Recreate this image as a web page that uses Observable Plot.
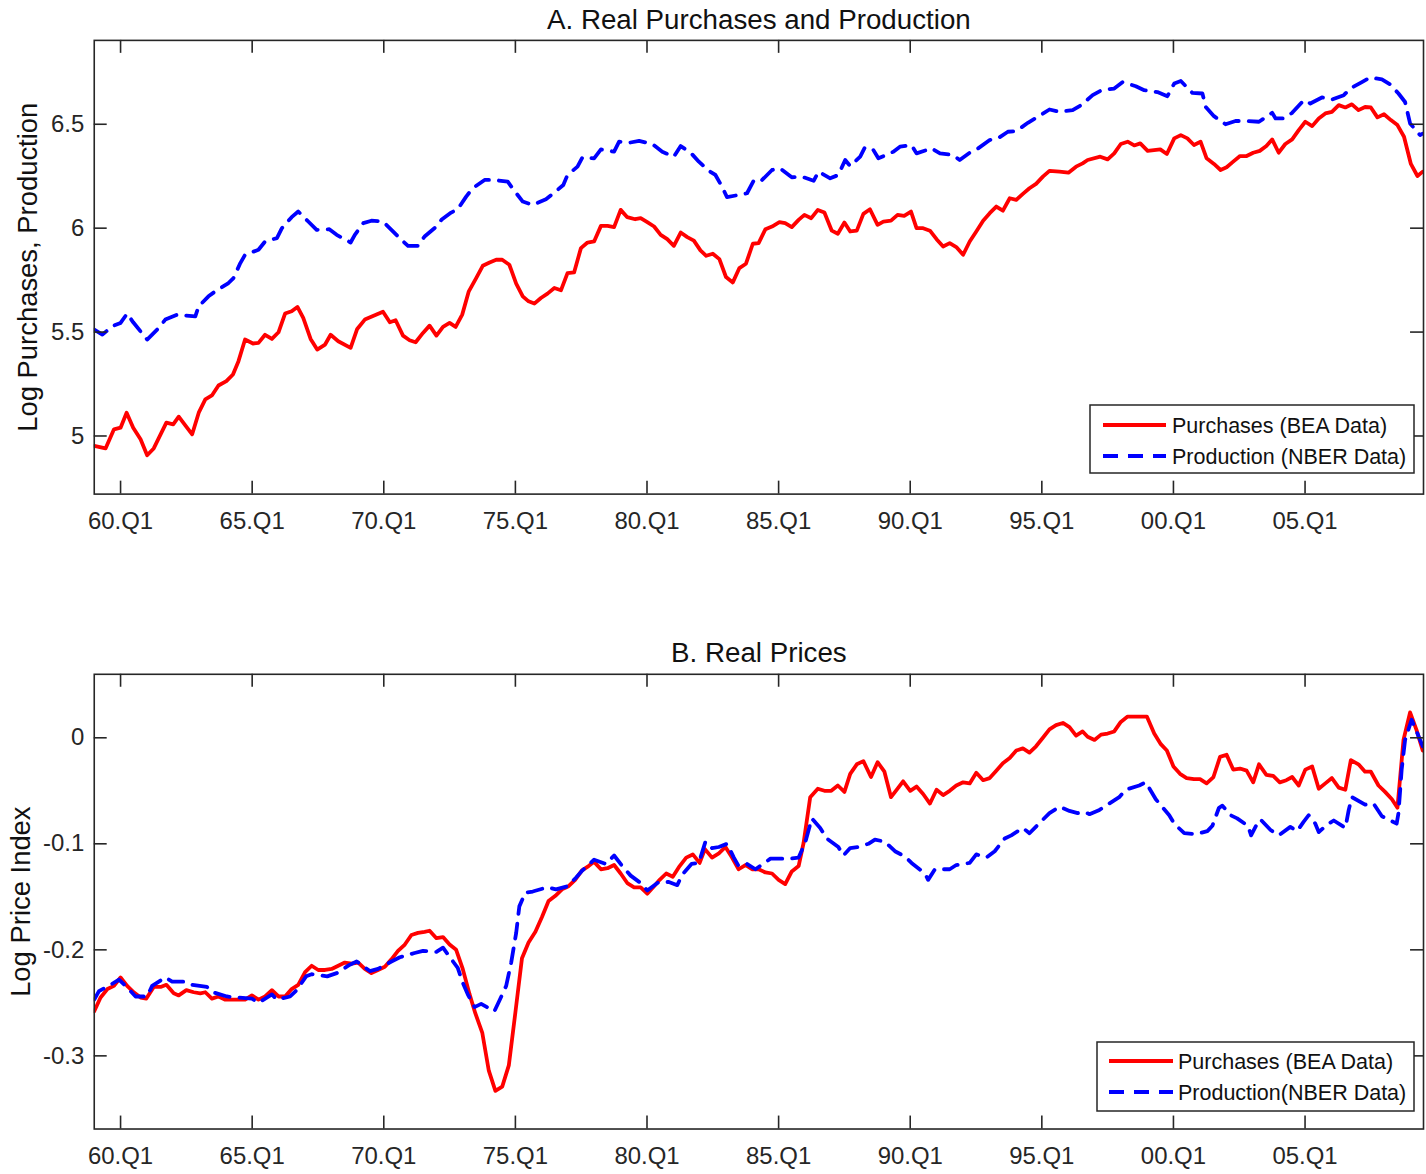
<!DOCTYPE html>
<html><head><meta charset="utf-8">
<script src="https://cdn.jsdelivr.net/npm/d3@7"></script>
<script src="https://cdn.jsdelivr.net/npm/@observablehq/plot@0.6"></script>
<style>
html,body{margin:0;padding:0;background:#fff;overflow:hidden;}
#wrap{position:relative;width:1426px;height:1174px;overflow:hidden;}
.panel{position:absolute;left:0;}
#overlay{position:absolute;left:0;top:0;pointer-events:none;}
</style></head><body><div id="wrap"></div>
<script>
// ---------- data (decimal year, value) ----------
const xTickYears = [1960,1965,1970,1975,1980,1985,1990,1995,2000,2005];
const xTickLabels = ["60.Q1","65.Q1","70.Q1","75.Q1","80.Q1","85.Q1","90.Q1","95.Q1","00.Q1","05.Q1"];
const yTicksA = [5,5.5,6,6.5];
const yTickLabelsA = ["5","5.5","6","6.5"];
const yTicksB = [-0.3,-0.2,-0.1,0];
const yTickLabelsB = ["-0.3","-0.2","-0.1","0"];
const titleA = "A. Real Purchases and Production";
const titleB = "B. Real Prices";
const ylabelA = "Log Purchases, Production";
const ylabelB = "Log Price Index";
const legendLabelsA = ["Purchases (BEA Data)","Production (NBER Data)"];
const legendLabelsB = ["Purchases (BEA Data)","Production(NBER Data)"];

const yearsPurchA = [1959.0,1959.43,1959.75,1960.0,1960.23,1960.48,1960.76,1961.01,1961.26,1961.74,1962.0,1962.21,1962.46,1962.72,1962.97,1963.22,1963.47,1963.72,1964.02,1964.27,1964.48,1964.73,1965.03,1965.24,1965.49,1965.75,1966.0,1966.25,1966.5,1966.72,1966.94,1967.22,1967.47,1967.77,1967.98,1968.27,1968.74,1968.99,1969.28,1969.97,1970.23,1970.45,1970.73,1970.98,1971.21,1971.49,1971.74,1972.0,1972.25,1972.5,1972.73,1972.98,1973.23,1973.51,1973.76,1974.02,1974.27,1974.5,1974.77,1975.03,1975.28,1975.5,1975.72,1975.97,1976.22,1976.48,1976.73,1976.98,1977.23,1977.49,1977.74,1977.99,1978.25,1978.5,1978.75,1979.0,1979.25,1979.55,1979.76,1980.01,1980.27,1980.52,1980.77,1981.02,1981.28,1981.53,1981.78,1982.03,1982.25,1982.5,1982.75,1983.0,1983.26,1983.51,1983.76,1984.02,1984.24,1984.5,1984.75,1985.03,1985.25,1985.5,1985.76,1985.98,1986.24,1986.49,1986.74,1987.02,1987.25,1987.5,1987.72,1987.97,1988.22,1988.47,1988.76,1988.98,1989.27,1989.52,1989.77,1990.03,1990.24,1990.49,1990.75,1991.0,1991.25,1991.5,1991.75,1992.01,1992.26,1992.51,1992.77,1993.02,1993.27,1993.52,1993.78,1994.03,1994.28,1994.53,1994.78,1995.04,1995.29,1995.67,1996.01,1996.3,1996.55,1996.74,1997.22,1997.5,1997.75,1998.0,1998.26,1998.51,1998.74,1999.02,1999.5,1999.75,2000.03,2000.28,2000.53,2000.78,2001.03,2001.26,2001.54,2001.79,2002.02,2002.27,2002.53,2002.78,2003.03,2003.28,2003.53,2003.75,2004.0,2004.25,2004.51,2004.76,2005.01,2005.27,2005.52,2005.77,2006.02,2006.28,2006.53,2006.78,2007.03,2007.28,2007.5,2007.75,2008.0,2008.26,2008.51,2008.76,2009.02,2009.27,2009.47];
const valsPurchA = [4.952,4.940,5.032,5.040,5.112,5.040,4.984,4.907,4.940,5.064,5.056,5.093,5.051,5.008,5.112,5.176,5.195,5.243,5.264,5.296,5.360,5.464,5.445,5.448,5.487,5.467,5.499,5.589,5.600,5.621,5.568,5.467,5.416,5.440,5.487,5.456,5.424,5.515,5.560,5.598,5.547,5.557,5.483,5.461,5.451,5.496,5.531,5.483,5.525,5.544,5.525,5.584,5.696,5.760,5.819,5.835,5.848,5.848,5.824,5.733,5.672,5.648,5.637,5.664,5.685,5.712,5.701,5.784,5.787,5.904,5.931,5.936,6.011,6.011,6.005,6.088,6.053,6.043,6.048,6.029,6.008,5.968,5.947,5.915,5.979,5.957,5.940,5.893,5.867,5.877,5.851,5.765,5.739,5.808,5.829,5.925,5.928,5.995,6.008,6.029,6.024,6.005,6.040,6.064,6.048,6.088,6.075,5.988,5.973,6.027,5.984,5.988,6.069,6.091,6.016,6.032,6.036,6.064,6.059,6.080,6.000,6.000,5.988,5.947,5.912,5.928,5.909,5.872,5.936,5.984,6.036,6.072,6.104,6.084,6.144,6.136,6.165,6.192,6.213,6.248,6.276,6.272,6.267,6.296,6.312,6.328,6.344,6.331,6.360,6.405,6.416,6.398,6.408,6.372,6.379,6.357,6.432,6.448,6.432,6.400,6.416,6.336,6.309,6.280,6.293,6.320,6.347,6.347,6.363,6.372,6.395,6.427,6.363,6.405,6.427,6.472,6.512,6.491,6.528,6.552,6.560,6.592,6.581,6.596,6.568,6.583,6.581,6.533,6.548,6.520,6.496,6.440,6.309,6.251,6.272];

const yearsProdA = [1959.0,1959.31,1959.69,1960.0,1960.25,1960.48,1961.01,1961.45,1961.70,1962.15,1962.46,1962.84,1962.97,1963.34,1963.6,1964.1,1964.29,1964.55,1964.73,1965.24,1965.49,1965.94,1966.13,1966.5,1966.75,1967.13,1967.45,1967.93,1968.21,1968.74,1968.9,1969.22,1969.53,1969.97,1970.29,1970.67,1970.92,1971.3,1971.55,1972.0,1972.19,1972.56,1972.81,1973.13,1973.38,1973.83,1974.2,1974.71,1974.96,1975.28,1975.66,1976.16,1976.48,1976.82,1976.98,1977.36,1977.55,1977.99,1978.25,1978.75,1978.94,1979.32,1979.7,1980.2,1980.58,1981.02,1981.28,1981.66,1981.97,1982.35,1982.6,1982.85,1983.04,1983.48,1983.8,1984.05,1984.31,1984.75,1985.06,1985.5,1985.88,1986.33,1986.52,1986.96,1987.27,1987.53,1987.72,1988.1,1988.28,1988.6,1988.79,1989.36,1989.61,1990.05,1990.24,1990.81,1991.13,1991.63,1991.88,1992.26,1992.58,1993.02,1993.33,1993.71,1994.03,1994.47,1994.85,1995.29,1995.67,1996.17,1996.49,1996.93,1997.27,1997.75,1998.07,1998.57,1998.89,1999.39,1999.77,2000.03,2000.28,2000.72,2001.1,2001.23,2001.54,2001.98,2002.36,2002.8,2003.25,2003.75,2003.88,2004.19,2004.51,2004.95,2005.2,2005.64,2006.02,2006.47,2006.72,2007.16,2007.47,2007.92,2008.23,2008.55,2008.8,2008.99,2009.37,2009.47];
const valsProdA = [5.512,5.488,5.528,5.544,5.589,5.547,5.464,5.520,5.560,5.584,5.579,5.576,5.624,5.672,5.696,5.736,5.760,5.832,5.872,5.896,5.936,5.952,6.000,6.053,6.080,6.032,5.992,5.995,5.968,5.931,5.968,6.024,6.036,6.032,5.992,5.944,5.915,5.915,5.960,6.008,6.040,6.075,6.091,6.152,6.192,6.232,6.232,6.224,6.180,6.128,6.112,6.139,6.171,6.208,6.256,6.296,6.341,6.336,6.379,6.368,6.416,6.411,6.420,6.405,6.368,6.344,6.395,6.363,6.320,6.276,6.256,6.200,6.149,6.160,6.168,6.228,6.224,6.280,6.288,6.245,6.248,6.228,6.272,6.240,6.256,6.328,6.299,6.344,6.389,6.376,6.336,6.368,6.392,6.400,6.360,6.384,6.360,6.352,6.328,6.363,6.384,6.424,6.432,6.464,6.467,6.507,6.536,6.571,6.560,6.568,6.592,6.640,6.664,6.672,6.703,6.683,6.664,6.655,6.635,6.696,6.708,6.651,6.648,6.583,6.539,6.500,6.516,6.515,6.512,6.555,6.528,6.528,6.555,6.616,6.600,6.629,6.619,6.640,6.672,6.703,6.725,6.716,6.692,6.648,6.607,6.504,6.448,6.455];

const yearsPurchB = [1959.0,1959.24,1959.5,1959.75,1960.0,1960.25,1960.5,1960.76,1960.98,1961.26,1961.52,1961.74,1962.02,1962.21,1962.5,1962.78,1963.03,1963.22,1963.47,1963.72,1963.98,1964.23,1964.48,1964.73,1964.99,1965.24,1965.49,1965.75,1966.0,1966.25,1966.5,1966.75,1967.01,1967.26,1967.51,1967.77,1968.02,1968.27,1968.52,1968.78,1969.03,1969.28,1969.53,1969.78,1970.04,1970.29,1970.54,1970.8,1971.05,1971.3,1971.55,1971.74,1972.0,1972.25,1972.5,1972.75,1973.0,1973.26,1973.48,1973.74,1973.99,1974.24,1974.5,1974.75,1975.0,1975.25,1975.5,1975.76,1976.01,1976.26,1976.52,1976.77,1977.02,1977.27,1977.53,1977.78,1977.99,1978.25,1978.5,1978.75,1979.0,1979.25,1979.51,1979.76,1980.01,1980.27,1980.48,1980.73,1980.98,1981.24,1981.49,1981.74,1982.0,1982.2,1982.47,1982.73,1982.98,1983.23,1983.48,1983.74,1983.99,1984.24,1984.5,1984.75,1985.0,1985.25,1985.5,1985.76,1985.95,1986.2,1986.49,1986.74,1987.0,1987.25,1987.5,1987.72,1987.97,1988.22,1988.51,1988.76,1989.02,1989.27,1989.52,1989.73,1990.0,1990.24,1990.49,1990.75,1991.0,1991.25,1991.5,1991.75,1992.01,1992.26,1992.51,1992.77,1993.02,1993.27,1993.52,1993.78,1994.03,1994.28,1994.53,1994.78,1995.04,1995.29,1995.54,1995.8,1996.05,1996.3,1996.55,1996.74,1997.0,1997.25,1997.5,1997.75,1998.0,1998.26,1998.51,1998.76,1998.99,1999.27,1999.52,1999.75,2000.0,2000.25,2000.5,2000.78,2001.01,2001.26,2001.52,2001.77,2002.02,2002.27,2002.53,2002.78,2003.03,2003.25,2003.53,2003.79,2004.04,2004.29,2004.51,2004.76,2005.01,2005.27,2005.52,2005.77,2006.02,2006.28,2006.53,2006.74,2007.03,2007.28,2007.5,2007.79,2008.04,2008.3,2008.51,2008.74,2008.99,2009.24,2009.47];
const valsPurchB = [-0.258,-0.245,-0.237,-0.234,-0.226,-0.234,-0.240,-0.245,-0.246,-0.235,-0.235,-0.233,-0.241,-0.243,-0.238,-0.240,-0.241,-0.240,-0.246,-0.244,-0.247,-0.247,-0.247,-0.247,-0.243,-0.247,-0.244,-0.238,-0.244,-0.244,-0.237,-0.233,-0.221,-0.215,-0.219,-0.219,-0.218,-0.215,-0.212,-0.213,-0.212,-0.218,-0.222,-0.219,-0.216,-0.209,-0.201,-0.195,-0.186,-0.184,-0.183,-0.182,-0.189,-0.188,-0.195,-0.200,-0.218,-0.242,-0.260,-0.278,-0.314,-0.333,-0.329,-0.309,-0.259,-0.208,-0.193,-0.183,-0.169,-0.154,-0.149,-0.143,-0.140,-0.134,-0.125,-0.121,-0.117,-0.124,-0.123,-0.120,-0.128,-0.137,-0.141,-0.141,-0.147,-0.140,-0.134,-0.128,-0.131,-0.121,-0.113,-0.110,-0.118,-0.105,-0.113,-0.109,-0.103,-0.113,-0.124,-0.120,-0.124,-0.124,-0.127,-0.128,-0.134,-0.138,-0.126,-0.121,-0.099,-0.056,-0.048,-0.050,-0.050,-0.045,-0.051,-0.034,-0.025,-0.022,-0.037,-0.023,-0.032,-0.056,-0.048,-0.041,-0.050,-0.046,-0.053,-0.062,-0.049,-0.054,-0.050,-0.045,-0.042,-0.043,-0.033,-0.040,-0.038,-0.031,-0.024,-0.019,-0.012,-0.010,-0.014,-0.008,0.000,0.008,0.012,0.014,0.010,0.002,0.006,0.001,-0.002,0.003,0.004,0.006,0.015,0.020,0.020,0.020,0.020,0.004,-0.006,-0.012,-0.027,-0.034,-0.038,-0.039,-0.039,-0.043,-0.037,-0.018,-0.016,-0.030,-0.029,-0.031,-0.042,-0.025,-0.035,-0.036,-0.042,-0.040,-0.037,-0.045,-0.030,-0.027,-0.048,-0.043,-0.038,-0.047,-0.049,-0.021,-0.025,-0.032,-0.032,-0.045,-0.051,-0.058,-0.066,-0.002,0.024,0.007,-0.012];

const yearsProdB = [1959.0,1959.18,1959.62,1959.94,1960.31,1960.57,1961.01,1961.2,1961.7,1961.96,1962.46,1962.72,1963.28,1963.51,1964.04,1964.42,1964.99,1965.24,1965.75,1965.94,1966.44,1966.69,1967.05,1967.26,1967.85,1968.21,1968.71,1968.97,1969.47,1969.78,1970.29,1970.61,1971.17,1971.49,1972.0,1972.25,1972.63,1972.81,1973.0,1973.19,1973.45,1973.7,1974.2,1974.39,1974.65,1974.84,1975.03,1975.15,1975.38,1975.66,1976.22,1976.54,1976.98,1977.3,1977.55,1977.99,1978.44,1978.75,1979.06,1979.38,1979.76,1980.01,1980.45,1980.83,1981.15,1981.34,1981.69,1981.97,1982.22,1982.47,1982.73,1983.04,1983.3,1983.48,1983.8,1984.12,1984.69,1985.44,1985.76,1986.01,1986.26,1986.58,1986.83,1987.27,1987.46,1987.72,1988.03,1988.41,1988.66,1989.04,1989.42,1989.8,1990.05,1990.56,1990.68,1990.94,1991.5,1991.75,1992.26,1992.51,1992.89,1993.21,1993.59,1993.84,1994.28,1994.53,1994.97,1995.29,1995.67,1996.05,1996.36,1996.62,1996.81,1997.19,1997.5,1997.94,1998.19,1998.7,1998.95,1999.33,1999.84,2000.03,2000.41,2000.85,2001.29,2001.48,2001.73,2001.86,2002.17,2002.42,2002.83,2002.95,2003.18,2003.31,2003.69,2004.0,2004.44,2004.7,2004.95,2005.14,2005.39,2005.52,2005.83,2006.09,2006.53,2006.66,2006.78,2007.28,2007.6,2007.92,2008.48,2008.55,2008.67,2008.8,2009.05,2009.32,2009.47];
const valsProdB = [-0.247,-0.239,-0.233,-0.228,-0.237,-0.244,-0.244,-0.234,-0.226,-0.230,-0.230,-0.233,-0.235,-0.240,-0.244,-0.245,-0.246,-0.250,-0.242,-0.247,-0.244,-0.238,-0.225,-0.223,-0.225,-0.222,-0.214,-0.211,-0.220,-0.218,-0.211,-0.207,-0.203,-0.201,-0.202,-0.198,-0.211,-0.217,-0.231,-0.242,-0.254,-0.251,-0.258,-0.248,-0.234,-0.212,-0.184,-0.159,-0.146,-0.145,-0.141,-0.143,-0.140,-0.132,-0.125,-0.115,-0.119,-0.111,-0.121,-0.130,-0.137,-0.144,-0.136,-0.136,-0.139,-0.129,-0.119,-0.118,-0.098,-0.104,-0.103,-0.100,-0.113,-0.121,-0.119,-0.124,-0.114,-0.114,-0.113,-0.099,-0.076,-0.085,-0.095,-0.103,-0.111,-0.104,-0.103,-0.100,-0.096,-0.098,-0.107,-0.112,-0.118,-0.128,-0.134,-0.124,-0.124,-0.120,-0.118,-0.110,-0.113,-0.107,-0.095,-0.092,-0.085,-0.090,-0.079,-0.071,-0.065,-0.069,-0.071,-0.070,-0.072,-0.068,-0.063,-0.056,-0.049,-0.045,-0.042,-0.058,-0.073,-0.081,-0.090,-0.091,-0.088,-0.083,-0.066,-0.064,-0.073,-0.076,-0.083,-0.092,-0.081,-0.077,-0.087,-0.092,-0.084,-0.088,-0.079,-0.073,-0.081,-0.089,-0.082,-0.078,-0.085,-0.068,-0.056,-0.063,-0.062,-0.074,-0.081,-0.071,-0.030,-0.002,0.017,0.001,-0.008];

// ---------- layout ----------
const W = 1430, ML = 94, MR = 3;
const INK = "#262626";
const FONT = "'Liberation Sans', Arial, Helvetica, sans-serif";
const xDomain = [1959.0, 2009.5];

function zip(xs, ys) { return xs.map((x, i) => ({x, y: ys[i]})); }

function makePanel(o) {
  const fh = o.frameBottom - o.frameTop;
  const mt = o.frameTop - o.svgTop;
  const mb = o.svgHeight - mt - fh;
  const fw = W - ML - MR;
  const purch = zip(o.purchYears, o.purchVals);
  const prod = zip(o.prodYears, o.prodVals);
  const svg = Plot.plot({
    width: W, height: o.svgHeight,
    marginLeft: ML, marginRight: MR, marginTop: mt, marginBottom: mb,
    style: {fontFamily: FONT, fontSize: "24px", color: INK, background: "transparent", overflow: "visible"},
    x: {type: "linear", domain: xDomain, ticks: xTickYears, tickSize: 0, tickPadding: 18,
        tickFormat: d => xTickLabels[xTickYears.indexOf(d)], label: null},
    y: {type: "linear", domain: o.yDomain, ticks: o.yTicks, tickSize: 0, tickPadding: 10,
        tickFormat: d => o.yTickLabels[o.yTicks.indexOf(d)], label: null},
    marks: [
      Plot.line(purch, {x: "x", y: "y", stroke: "#ff0000", strokeWidth: 3.8, strokeLinejoin: "round", clip: true}),
      Plot.line(prod, {x: "x", y: "y", stroke: "#0000ff", strokeWidth: 3.8, strokeDasharray: "15,10", strokeLinejoin: "round", clip: true}),
      Plot.frame({stroke: INK, strokeWidth: 1.6}),
      Plot.tickX(xTickYears, {x: d => d, insetTop: fh - 13, stroke: INK, strokeWidth: 1.6}),
      Plot.tickX(xTickYears, {x: d => d, insetBottom: fh - 13, stroke: INK, strokeWidth: 1.6}),
      Plot.tickY(o.yTicks, {y: d => d, insetRight: fw - 13, stroke: INK, strokeWidth: 1.6}),
      Plot.tickY(o.yTicks, {y: d => d, insetLeft: fw - 13, stroke: INK, strokeWidth: 1.6}),
      Plot.text([o.title], {text: d => d, frameAnchor: "top", textAnchor: "middle", lineAnchor: "middle",
        dy: o.titleDy, fontSize: 27.8, fill: "#111"}),
      Plot.text([o.ylabel], {text: d => d, frameAnchor: "left", textAnchor: "middle", lineAnchor: "middle",
        rotate: -90, dx: o.ylabelDx, fontSize: 27.5, fill: "#111"})
    ]
  });
  const div = document.createElement("div");
  div.className = "panel";
  div.style.top = o.svgTop + "px";
  div.appendChild(svg);
  document.getElementById("wrap").appendChild(div);
}

makePanel({purchYears: yearsPurchA, purchVals: valsPurchA, prodYears: yearsProdA, prodVals: valsProdA,
  yDomain: [4.7203, 6.9036], yTicks: yTicksA, yTickLabels: yTickLabelsA,
  title: titleA, titleDy: -20, ylabel: ylabelA, ylabelDx: -66,
  svgTop: 0, svgHeight: 574, frameTop: 40, frameBottom: 495});

makePanel({purchYears: yearsPurchB, purchVals: valsPurchB, prodYears: yearsProdB, prodVals: valsProdB,
  yDomain: [-0.369, 0.0599], yTicks: yTicksB, yTickLabels: yTickLabelsB,
  title: titleB, titleDy: -21, ylabel: ylabelB, ylabelDx: -73,
  svgTop: 600, svgHeight: 574, frameTop: 674, frameBottom: 1130});

// ---------- legends ----------
const ov = d3.select("#wrap").append("svg").attr("id", "overlay")
  .attr("width", 1426).attr("height", 1174)
  .style("font-family", FONT);

function legend(box, rowsY, lx1, lx2, tx, labels) {
  ov.append("rect").attr("x", box[0]).attr("y", box[1])
    .attr("width", box[2] - box[0]).attr("height", box[3] - box[1])
    .attr("fill", "#fff").attr("stroke", INK).attr("stroke-width", 1.5);
  const styles = [{stroke: "#ff0000", dash: null}, {stroke: "#0000ff", dash: "15,10"}];
  labels.forEach((lab, i) => {
    ov.append("line").attr("x1", lx1).attr("x2", lx2).attr("y1", rowsY[i]).attr("y2", rowsY[i])
      .attr("stroke", styles[i].stroke).attr("stroke-width", 3.8)
      .attr("stroke-dasharray", styles[i].dash);
    ov.append("text").attr("x", tx).attr("y", rowsY[i]).attr("dy", "0.35em")
      .attr("font-size", 21.5).attr("fill", "#111").text(lab);
  });
}
legend([1090, 405, 1414, 473], [425, 456], 1103, 1166, 1172, legendLabelsA);
legend([1097, 1042, 1414, 1111], [1061, 1092], 1109, 1173, 1178, legendLabelsB);
</script>
</body></html>
